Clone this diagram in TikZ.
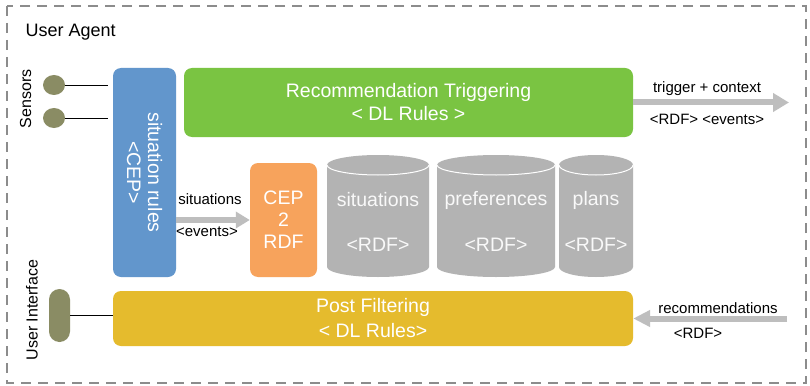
\documentclass[tikz,border=0pt]{standalone}
\usepackage{fontspec}
\setmainfont{Liberation Sans}
\usetikzlibrary{arrows.meta,shapes.geometric}
\definecolor{boxblue}{HTML}{6296CC}
\definecolor{boxgreen}{HTML}{7AC442}
\definecolor{boxorange}{HTML}{F7A35C}
\definecolor{boxyellow}{HTML}{E5BB2D}
\definecolor{storegray}{HTML}{B3B3B3}
\definecolor{olive}{HTML}{8A8C64}
\definecolor{flowgray}{HTML}{BEBEBE}
\definecolor{framegray}{HTML}{8C8C8C}
\tikzset{
  blk/.style={rounded corners=8pt, inner sep=0pt, draw=none},
  bigtxt/.style={text=white, align=center, font=\fontsize{19.5}{23}\selectfont},
  smalltxt/.style={text=black, font=\fontsize{15}{18}\selectfont},
  sidetxt/.style={text=black, rotate=90, font=\fontsize{16}{19}\selectfont},
  flow/.style={draw=flowgray, line width=6pt, -{Triangle[length=16pt,width=18pt]}},
  wire/.style={draw=black, line width=0.9pt},
}
% cylinder: left x, right x, top y, bottom y
\newcommand{\storecyl}[4]{%
  \pgfmathsetmacro{\crx}{(#2-#1)/2}
  \fill[storegray] (#1,#3+10) -- (#1,#4-10)
    arc[start angle=180, end angle=0, x radius=\crx, y radius=10]
    -- (#2,#3+10)
    arc[start angle=0, end angle=-180, x radius=\crx, y radius=10] -- cycle;
  \draw[white, line width=1pt] (#1,#3+10)
    arc[start angle=180, end angle=0, x radius=\crx, y radius=10];
}
\begin{document}
\begin{tikzpicture}[x=1pt, y=-1pt]
\useasboundingbox (0,0) rectangle (810,385);
\fill[white] (0,0) rectangle (810,385);

% agent frame
\draw[framegray, line width=2pt, dash pattern=on 10pt off 7pt] (7,6) rectangle (806,383);
\node[anchor=base west, font=\fontsize{18}{21}\selectfont] (agent) at (22,37) {User Agent};

% sensors
\node[sidetxt] (sensorslbl) at (25.5,99) {Sensors};
\node[ellipse, fill=olive, minimum width=22pt, minimum height=20pt, inner sep=0pt] (s1) at (54,85) {};
\node[ellipse, fill=olive, minimum width=22pt, minimum height=20pt, inner sep=0pt] (s2) at (54,118) {};

% situation rules
\node[blk, fill=boxblue, minimum width=63pt, minimum height=209pt] (cep) at (144.5,172.5) {};
\node[bigtxt, rotate=-90, font=\fontsize{19.5}{21}\selectfont] (ceplbl) at (cep.center) {situation rules\\<CEP>};

\draw[wire, shorten >=5pt] (s1.east) -- (s1.east -| cep.west);
\draw[wire, shorten >=5pt] (s2.east) -- (s2.east -| cep.west);

% recommendation triggering
\node[blk, fill=boxgreen, minimum width=449pt, minimum height=69pt, bigtxt] (trig) at (408.5,102.5) {Recommendation Triggering\\< DL Rules >};

% CEP to RDF converter
\node[blk, fill=boxorange, minimum width=67pt, minimum height=114pt, bigtxt, font=\fontsize{19.5}{22}\selectfont] (conv) at (283.5,220) {CEP\\2\\RDF};

% stores
\storecyl{327}{429}{155}{277}
\storecyl{437}{555}{155}{277}
\storecyl{559}{633}{155}{277}
\node[bigtxt, text=white!95!gray] (st1) at (378,200) {situations};
\node[bigtxt, text=white!95!gray] (st1f) at (378,245) {<RDF>};
\node[bigtxt, text=white!95!gray] (st2) at (496,200) {preferences};
\node[bigtxt, text=white!95!gray] (st2f) at (496,245) {<RDF>};
\node[bigtxt, text=white!95!gray] (st3) at (596,200) {plans};
\node[bigtxt, text=white!95!gray] (st3f) at (596,245) {<RDF>};

% situations flow
\draw[flow, -{Triangle[length=14pt,width=16pt]}] (cep.east |- conv.center) -- (conv.west);
\node[smalltxt] (sitlbl) at (210,199) {situations};
\node[smalltxt] (evtlbl) at (207,232) {<events>};

% trigger output
\coordinate (trigout) at (789,102.5);
\draw[flow] (trig.east) -- (trigout);
\node[smalltxt] (tclbl) at (707,89) {trigger + context};
\node[smalltxt] (tcfmt) at (707,119) {<RDF> <events>};

% user interface
\node[sidetxt] (uilbl) at (32,310) {User Interface};
\node[rounded corners=10.5pt, fill=olive, minimum width=21pt, minimum height=53pt, inner sep=0pt] (ui) at (59.5,315.5) {};

% post filtering
\node[blk, fill=boxyellow, minimum width=520pt, minimum height=55pt, bigtxt, font=\fontsize{19.5}{25}\selectfont] (post) at (373,318.5) {Post Filtering\\< DL Rules>};
\draw[wire] (ui.east) -- (ui.east -| post.west);

% recommendations input
\coordinate (recin) at (787,318.5);
\draw[flow, -{Triangle[length=17pt,width=16pt]}] (recin) -- (post.east);
\node[smalltxt] (reclbl) at (718,308) {recommendations};
\node[smalltxt] (recfmt) at (698,333) {<RDF>};
\end{tikzpicture}
\end{document}
